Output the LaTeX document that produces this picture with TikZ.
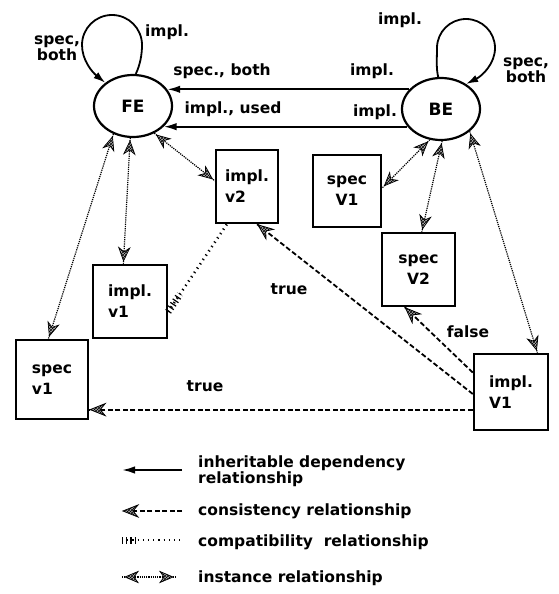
\documentclass[tikz,border=0pt]{standalone}
\usepackage{fontspec}
\setmainfont{DejaVu Sans}
\usetikzlibrary{arrows.meta,shapes.geometric,decorations.markings,patterns,calc}

% cross-hatched arrow heads, tip at the origin, pointing along +x after rotation
\newcommand\insthead[1]{%
  \fill[gray!55,rotate=#1] (0,0) -- (-13pt,5.5pt) -- (-9pt,0pt) -- (-13pt,-5.5pt) -- cycle;
  \draw[solid,line width=0.7pt,rotate=#1,pattern=crosshatch]
    (0,0) -- (-13pt,5.5pt) -- (-9pt,0pt) -- (-13pt,-5.5pt) -- cycle;}
\newcommand\conshead[1]{%
  \fill[gray!60,rotate=#1] (0,0) -- (-15pt,6pt) -- (-10pt,0pt) -- (-15pt,-6pt) -- cycle;
  \draw[solid,line width=0.8pt,rotate=#1,pattern=crosshatch]
    (0,0) -- (-15pt,6pt) -- (-10pt,0pt) -- (-15pt,-6pt) -- cycle;}
\newcommand\lblfont{\bfseries\fontsize{15.5}{14}\selectfont}
\newcommand\boxfont{\bfseries\fontsize{15.5}{21}\selectfont}

\begin{document}
\begin{tikzpicture}[x=1pt, y=-1pt,
  proc/.style={draw, ellipse, line width=2.2pt, minimum width=78pt, minimum height=62pt,
    inner sep=0pt, font=\bfseries\fontsize{17}{17}\selectfont},
  unit/.style={draw, rectangle, line width=2.4pt, inner sep=0pt, font=\boxfont},
  lbl/.style={inner sep=0pt, font=\lblfont},
  inherit/.style={line width=2pt, -{Latex[length=13pt,width=7.5pt]}},
  loopline/.style={line width=1.8pt, -{Latex[length=12pt,width=7.5pt]}},
  consist/.style={line width=1.8pt, dash pattern=on 5pt off 2.5pt,
    postaction={decorate, decoration={markings, mark=at position -1pt with {\conshead{0}}}}},
  instance/.style={densely dotted, line width=1.2pt,
    postaction={decorate, decoration={markings,
      mark=at position 3pt with {\insthead{180}},
      mark=at position -3pt with {\insthead{0}}}}},
  compat/.style={line width=2.6pt, dash pattern=on 1.2pt off 4pt},
  compatticks/.style={line width=7pt, dash pattern=on 1.2pt off 3pt}
]
\useasboundingbox (0,0) rectangle (559,594);

% processes
\node[proc] (FE) at (133,106) {FE};
\node[proc] (BE) at (441,109) {BE};

% versions
\node[unit, align=left, minimum width=62pt, minimum height=73pt] (implv2) at (247,186.5) {impl.\\v2};
\node[unit, align=center, minimum width=68pt, minimum height=72pt] (specV1) at (347,191) {spec\\V1};
\node[unit, align=center, minimum width=73pt, minimum height=73pt] (specV2) at (418.5,269.5) {spec\\V2};
\node[unit, align=left, minimum width=74pt, minimum height=73pt] (implv1) at (130,301.5) {impl.\\v1};
\node[unit, align=left, minimum width=72pt, minimum height=79pt] (specv1) at (52,379.5) {spec\\v1};
\node[unit, align=left, minimum width=74pt, minimum height=76pt] (implV1) at (511,392) {impl.\\V1};

% inheritable dependencies: self loops
\draw[loopline] (FE.85) .. controls (140,65) and (142,55) .. (142,45)
  .. controls (142,28.4) and (128.6,15) .. (112,15)
  .. controls (95.4,15) and (82,28.4) .. (82,45)
  .. controls (82,60) and (92,72) .. (FE.140);
\draw[loopline] (BE.95) .. controls (436,68) and (437,58) .. (437,48)
  .. controls (437,32) and (450,19) .. (466,19)
  .. controls (482,19) and (495,32) .. (495,48)
  .. controls (495,64) and (482,76) .. (BE.45);
% inheritable dependencies between the processes
\draw[inherit] (BE.149 |- FE.26) -- (FE.26);
\draw[inherit] (BE.-153 |- FE.-34) -- (FE.-34);
\node[lbl, align=center] (l1) at (57,48) {spec,\\both};
\node[lbl] (l2) at (167,32) {impl.};
\node[lbl] (l3) at (400,20) {impl.};
\node[lbl, align=center] (l4) at (526,70) {spec,\\both};
\node[lbl] (l5) at (222,71) {spec., both};
\node[lbl] (l6) at (372,71) {impl.};
\node[lbl] (l7) at (233,109) {impl., used};
\node[lbl] (l8) at (375,112) {impl.};

% instance relationships
\draw[instance] (FE.-125) -- (specv1.95);
\draw[instance] (FE.-95) -- (implv1.100);
\draw[instance] (FE.-52) -- (implv2.170);
\draw[instance] (BE.-110) -- (specV1.5);
\draw[instance] (BE.-88) -- (specV2.85);
\draw[instance] (BE.-38) -- (implV1.56);

% consistency relationships
\draw[consist] (implV1.183) -- (implv2.-75);
\draw[consist] (implV1.153) -- (specV2.-110);
\draw[consist] (implV1.west |- specv1.-39) -- (specv1.-39);
\node[lbl] (t1) at (289,289) {true};
\node[lbl] (t2) at (205,386) {true};
\node[lbl] (t3) at (468,332) {false};

% compatibility relationship
\draw[compat] (implv1.-15) -- (implv2.-118);
\draw[compatticks] (implv1.-15) -- ($(implv1.-15)!0.2!(implv2.-118)$);

% legend
\coordinate (a1) at (122,470); \coordinate (b1) at (182,470);
\coordinate (a2) at (122,511); \coordinate (b2) at (182,511);
\coordinate (a3) at (122,540); \coordinate (b3) at (182,540);
\coordinate (a4) at (122,577); \coordinate (b4) at (176,577);
\draw[inherit] (b1) -- (a1);
\draw[consist] (b2) -- (a2);
\draw[compat] (a3) -- (b3);
\draw[compatticks] (a3) -- ($(a3)!0.22!(b3)$);
\draw[instance] (a4) -- (b4);
\node[lbl, anchor=west, align=left] (k1) at (198,471) {inheritable dependency\\relationship};
\node[lbl, anchor=base west] (k2) at (198,515) {consistency relationship};
\node[lbl, anchor=base west] (k3) at (198,546) {compatibility\ \ relationship};
\node[lbl, anchor=base west] (k4) at (198,582) {instance relationship};
\end{tikzpicture}
\end{document}
